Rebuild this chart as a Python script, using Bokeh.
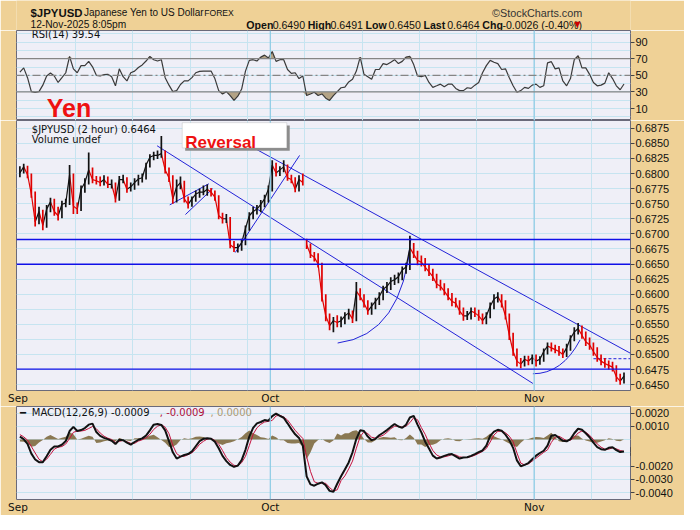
import numpy as np
from bokeh.plotting import figure
from bokeh.layouts import column
from bokeh.models import Range1d, Label, FixedTicker, Span, PrintfTickFormatter, BoxAnnotation
from bokeh.core.properties import value
from bokeh.embed import file_html
from bokeh.resources import INLINE

# ---------------- data (2-hour JPYUSD, sampled every 1/3 trading day) ----------------
closes = [
    0.6801, 0.6811, 0.6798, 0.6766, 0.6720, 0.6737, 0.6714, 0.6741, 0.6753,
    0.6737, 0.6730, 0.6749, 0.6751, 0.6798, 0.6746, 0.6741, 0.6774, 0.6785,
    0.6806, 0.6790, 0.6788, 0.6785, 0.6790, 0.6782, 0.6782, 0.6758, 0.6790,
    0.6790, 0.6774, 0.6778, 0.6785, 0.6791, 0.6793, 0.6814, 0.6827, 0.6830,
    0.6830, 0.6833, 0.6806, 0.6793, 0.6758, 0.6778, 0.6785, 0.6758, 0.6749,
    0.6758, 0.6766, 0.6769, 0.6769, 0.6774, 0.6769, 0.6761, 0.6730, 0.6725,
    0.6725, 0.6682, 0.6677, 0.6677, 0.6685, 0.6709, 0.6730, 0.6737, 0.6741,
    0.6749, 0.6758, 0.6774, 0.6814, 0.6801, 0.6806, 0.6811, 0.6793, 0.6790,
    0.6774, 0.6790, 0.6785, 0.6682, 0.6666, 0.6661, 0.6650, 0.6596, 0.6564,
    0.6548, 0.6556, 0.6553, 0.6556, 0.6564, 0.6569, 0.6559, 0.6605, 0.6596,
    0.6585, 0.6572, 0.6580, 0.6588, 0.6596, 0.6608, 0.6613, 0.6621, 0.6624,
    0.6629, 0.6640, 0.6645, 0.6677, 0.6666, 0.6656, 0.6653, 0.6645, 0.6637,
    0.6629, 0.6617, 0.6613, 0.6605, 0.6596, 0.6588, 0.6585, 0.6572, 0.6564,
    0.6564, 0.6572, 0.6569, 0.6564, 0.6556, 0.6564, 0.6580, 0.6592, 0.6596,
    0.6585, 0.6564, 0.6532, 0.6505, 0.6489, 0.6484, 0.6492, 0.6489, 0.6495,
    0.6489, 0.6492, 0.6505, 0.6514, 0.6511, 0.6508, 0.6505, 0.6500, 0.6511,
    0.6527, 0.6537, 0.6543, 0.6532, 0.6521, 0.6516, 0.6505, 0.6495, 0.6489,
    0.6485, 0.6482, 0.6479, 0.6463, 0.6456, 0.6464,
]
highs = [
    0.6812, 0.6816, 0.6813, 0.6800, 0.6770, 0.6745, 0.6740, 0.6748, 0.6760,
    0.6758, 0.6745, 0.6755, 0.6758, 0.6814, 0.6800, 0.6752, 0.6780, 0.6792,
    0.6835, 0.6810, 0.6796, 0.6795, 0.6797, 0.6795, 0.6790, 0.6785, 0.6796,
    0.6798, 0.6794, 0.6785, 0.6792, 0.6798, 0.6800, 0.6818, 0.6832, 0.6836,
    0.6838, 0.6862, 0.6838, 0.6810, 0.6797, 0.6790, 0.6795, 0.6788, 0.6762,
    0.6762, 0.6772, 0.6775, 0.6780, 0.6782, 0.6776, 0.6772, 0.6764, 0.6735,
    0.6733, 0.6728, 0.6688, 0.6684, 0.6692, 0.6714, 0.6736, 0.6745, 0.6748,
    0.6756, 0.6765, 0.6780, 0.6822, 0.6818, 0.6812, 0.6822, 0.6815, 0.6798,
    0.6794, 0.6797, 0.6800, 0.6692, 0.6684, 0.6670, 0.6668, 0.6652, 0.6600,
    0.6568, 0.6562, 0.6565, 0.6563, 0.6570, 0.6576, 0.6573, 0.6620, 0.6610,
    0.6600, 0.6590, 0.6586, 0.6594, 0.6603, 0.6614, 0.6620, 0.6628, 0.6632,
    0.6636, 0.6646, 0.6652, 0.6697, 0.6685, 0.6672, 0.6664, 0.6660, 0.6650,
    0.6642, 0.6634, 0.6624, 0.6618, 0.6610, 0.6602, 0.6594, 0.6590, 0.6578,
    0.6572, 0.6578, 0.6578, 0.6574, 0.6568, 0.6570, 0.6586, 0.6600, 0.6603,
    0.6600, 0.6590, 0.6568, 0.6536, 0.6510, 0.6494, 0.6498, 0.6498, 0.6500,
    0.6500, 0.6497, 0.6510, 0.6520, 0.6520, 0.6516, 0.6514, 0.6510, 0.6518,
    0.6532, 0.6545, 0.6552, 0.6548, 0.6538, 0.6528, 0.6520, 0.6512, 0.6500,
    0.6494, 0.6490, 0.6488, 0.6482, 0.6468, 0.6470,
]
lows = [
    0.6794, 0.6800, 0.6792, 0.6760, 0.6712, 0.6716, 0.6706, 0.6710, 0.6736,
    0.6730, 0.6722, 0.6726, 0.6744, 0.6748, 0.6733, 0.6733, 0.6738, 0.6768,
    0.6782, 0.6784, 0.6782, 0.6779, 0.6780, 0.6776, 0.6775, 0.6752, 0.6755,
    0.6784, 0.6768, 0.6770, 0.6773, 0.6780, 0.6785, 0.6790, 0.6810, 0.6822,
    0.6824, 0.6826, 0.6800, 0.6786, 0.6750, 0.6752, 0.6774, 0.6752, 0.6742,
    0.6745, 0.6753, 0.6760, 0.6764, 0.6763, 0.6762, 0.6755, 0.6724, 0.6717,
    0.6718, 0.6676, 0.6670, 0.6669, 0.6672, 0.6681, 0.6705, 0.6724, 0.6732,
    0.6736, 0.6744, 0.6752, 0.6770, 0.6795, 0.6796, 0.6802, 0.6788, 0.6784,
    0.6769, 0.6770, 0.6780, 0.6675, 0.6660, 0.6654, 0.6644, 0.6588, 0.6555,
    0.6540, 0.6537, 0.6545, 0.6545, 0.6550, 0.6558, 0.6552, 0.6555, 0.6590,
    0.6578, 0.6566, 0.6566, 0.6575, 0.6582, 0.6590, 0.6602, 0.6607, 0.6615,
    0.6618, 0.6623, 0.6634, 0.6640, 0.6660, 0.6648, 0.6646, 0.6638, 0.6630,
    0.6622, 0.6610, 0.6606, 0.6598, 0.6590, 0.6580, 0.6578, 0.6566, 0.6556,
    0.6557, 0.6558, 0.6562, 0.6556, 0.6550, 0.6550, 0.6560, 0.6575, 0.6586,
    0.6578, 0.6558, 0.6524, 0.6498, 0.6480, 0.6477, 0.6480, 0.6482, 0.6484,
    0.6480, 0.6483, 0.6488, 0.6500, 0.6505, 0.6502, 0.6498, 0.6494, 0.6496,
    0.6506, 0.6522, 0.6533, 0.6526, 0.6514, 0.6508, 0.6498, 0.6488, 0.6482,
    0.6478, 0.6475, 0.6472, 0.6455, 0.6450, 0.6452,
]
rsi = [
    53.9, 59.0, 47.2, 30.4, 29.6, 30.4, 38.2, 49.2, 52.7, 49.2,
    41.4, 47.2, 53.1, 72.7, 57.8, 53.1, 61.7, 61.7, 66.8, 60.2,
    50.0, 49.2, 50.8, 51.2, 48.4, 37.4, 57.8, 48.4, 43.3, 53.1,
    55.1, 59.4, 62.5, 67.2, 72.7, 68.8, 67.2, 68.8, 47.2, 38.2,
    30.4, 31.6, 39.0, 43.3, 43.3, 47.2, 53.1, 54.7, 55.1, 55.1,
    55.1, 46.1, 31.6, 27.6, 30.4, 25.7, 19.8, 24.9, 33.5, 55.1,
    68.0, 68.8, 67.2, 71.9, 74.3, 70.8, 78.6, 66.8, 68.8, 68.8,
    57.0, 52.3, 53.1, 46.1, 49.2, 25.7, 27.6, 29.6, 25.7, 27.6,
    22.5, 19.8, 25.7, 30.4, 35.1, 35.9, 42.1, 45.3, 55.1, 71.9,
    51.2, 48.4, 45.3, 57.0, 57.0, 64.1, 62.9, 65.7, 68.8, 64.1,
    66.8, 71.9, 72.7, 62.9, 49.2, 48.4, 50.0, 41.4, 35.5, 37.4,
    39.4, 36.3, 39.4, 39.4, 34.3, 31.6, 31.6, 35.1, 34.3, 38.2,
    41.4, 53.1, 61.7, 68.0, 65.7, 64.1, 57.0, 57.8, 47.2, 37.4,
    29.6, 31.6, 35.5, 34.3, 38.2, 39.4, 35.5, 37.4, 64.9, 66.4,
    57.8, 59.0, 43.3, 37.4, 46.1, 68.8, 73.5, 59.0, 59.0, 51.2,
    41.4, 37.4, 38.2, 40.6, 53.1, 46.1, 37.4, 32.7, 39.54,
]
macd = [
    0.00023, 0.00004, -0.00033, -0.00106, -0.00150, -0.00170, -0.00170, -0.00126, -0.00077, -0.00052,
    -0.00052, -0.00038, -0.00011, 0.00065, 0.00096, 0.00065, 0.00072, 0.00087, 0.00113, 0.00121,
    0.00057, 0.00028, 0.00013, 0.00004, -0.00009, -0.00033, -0.00001, -0.00004, -0.00023, -0.00038,
    -0.00018, -0.00001, 0.00009, 0.00030, 0.00070, 0.00113, 0.00118, 0.00111, 0.00070, -0.00011,
    -0.00096, -0.00143, -0.00128, -0.00116, -0.00109, -0.00089, -0.00050, -0.00011, 0.00006, 0.00011,
    0.00006, -0.00016, -0.00065, -0.00123, -0.00162, -0.00191, -0.00206, -0.00196, -0.00155, -0.00077,
    0.00023, 0.00089, 0.00123, 0.00133, 0.00148, 0.00143, 0.00177, 0.00196, 0.00179, 0.00165,
    0.00123, 0.00079, 0.00040, 0.00013, -0.00045, -0.00277, -0.00338, -0.00348, -0.00333, -0.00323,
    -0.00345, -0.00387, -0.00394, -0.00333, -0.00277, -0.00226, -0.00172, -0.00096, 0.00006, 0.00070,
    0.00065, 0.00023, -0.00004, 0.00006, 0.00033, 0.00052, 0.00072, 0.00096, 0.00118, 0.00099,
    0.00089, 0.00113, 0.00167, 0.00179, 0.00113, 0.00055, -0.00016, -0.00067, -0.00121, -0.00143,
    -0.00135, -0.00123, -0.00113, -0.00109, -0.00126, -0.00143, -0.00135, -0.00133, -0.00123, -0.00109,
    -0.00094, -0.00082, -0.00045, 0.00028, 0.00060, 0.00074, 0.00067, 0.00038, -0.00004, -0.00062,
    -0.00157, -0.00201, -0.00191, -0.00177, -0.00148, -0.00121, -0.00101, -0.00084, -0.00045, 0.00030,
    0.00035, 0.00013, -0.00009, -0.00013, 0.00004, 0.00048, 0.00082, 0.00074, 0.00048, 0.00018,
    -0.00023, -0.00057, -0.00072, -0.00077, -0.00062, -0.00057, -0.00079, -0.00094, -0.00089,
]
signal = [
    0.00038, 0.00021, -0.00004, -0.00052, -0.00101, -0.00148, -0.00167, -0.00148, -0.00111, -0.00072,
    -0.00057, -0.00052, -0.00033, 0.00009, 0.00055, 0.00065, 0.00065, 0.00070, 0.00084, 0.00099,
    0.00082, 0.00050, 0.00026, 0.00011, 0.00001, -0.00021, -0.00013, -0.00006, -0.00016, -0.00028,
    -0.00028, -0.00011, -0.00001, 0.00013, 0.00040, 0.00077, 0.00101, 0.00113, 0.00094, 0.00045,
    -0.00043, -0.00106, -0.00126, -0.00126, -0.00113, -0.00099, -0.00072, -0.00035, -0.00013, 0.00004,
    0.00009, -0.00006, -0.00035, -0.00082, -0.00135, -0.00170, -0.00194, -0.00199, -0.00174, -0.00126,
    -0.00045, 0.00040, 0.00089, 0.00116, 0.00133, 0.00138, 0.00145, 0.00179, 0.00184, 0.00170,
    0.00148, 0.00109, 0.00070, 0.00038, 0.00009, -0.00130, -0.00240, -0.00318, -0.00330, -0.00328,
    -0.00330, -0.00362, -0.00387, -0.00379, -0.00309, -0.00274, -0.00221, -0.00162, -0.00065, 0.00023,
    0.00060, 0.00045, 0.00018, 0.00011, 0.00021, 0.00033, 0.00055, 0.00082, 0.00101, 0.00101,
    0.00094, 0.00101, 0.00128, 0.00165, 0.00150, 0.00091, 0.00040, -0.00026, -0.00082, -0.00116,
    -0.00130, -0.00130, -0.00123, -0.00113, -0.00116, -0.00130, -0.00135, -0.00135, -0.00128, -0.00118,
    -0.00104, -0.00089, -0.00067, -0.00018, 0.00035, 0.00062, 0.00065, 0.00052, 0.00026, -0.00016,
    -0.00101, -0.00177, -0.00191, -0.00182, -0.00162, -0.00140, -0.00118, -0.00096, -0.00077, -0.00021,
    0.00018, 0.00026, 0.00009, -0.00009, -0.00004, 0.00018, 0.00050, 0.00065, 0.00055, 0.00033,
    0.00001, -0.00033, -0.00057, -0.00072, -0.00072, -0.00062, -0.00070, -0.00082, -0.00089,
]
gap_index = 75                      # first bar after the Oct 4-5 weekend gap

month_days = [0, 22, 45]            # trading-day index of Sep 1, Oct 1, Nov 3
month_labels = ["Sep", "Oct", "Nov"]
week_days = [5, 10, 15, 20, 25, 30, 35, 40, 45, 50]
price_ticks = [0.6450, 0.6475, 0.6500, 0.6525, 0.6550, 0.6575, 0.6600, 0.6625, 0.6650,
               0.6675, 0.6700, 0.6725, 0.6750, 0.6775, 0.6800, 0.6825, 0.6850, 0.6875]
rsi_ticks = [10, 30, 50, 70, 90]
rsi_grid = [0, 10, 20, 30, 40, 50, 60, 70, 80, 90, 100]
macd_ticks = [-0.004, -0.003, -0.002, 0.001, 0.002]
macd_grid = [-0.004, -0.003, -0.002, -0.001, 0.0, 0.001, 0.002]
h_levels = [0.66907, 0.66496, 0.64757]
trend_x0 = [20.21, 12.13, 13.23, 14.60, 18.94]
trend_y0 = [0.6846, 0.6846, 0.6748, 0.6732, 0.6669]
trend_x1 = [53.40, 44.89, 16.64, 16.98, 24.55]
trend_y1 = [0.6502, 0.6452, 0.6783, 0.6775, 0.6830]
arc_x0 = [27.87, 44.89]; arc_y0 = [0.6519, 0.6468]
arc_cx = [33.57, 47.45]; arc_cy = [0.6532, 0.6468]
arc_x1 = [34.26, 49.00]; arc_y1 = [0.6693, 0.6524]
dash_x0 = [50.17]; dash_x1 = [53.40]; dash_y = [0.6493]
yen_note = {"x": [2.51], "y": [10.5], "text": ["Yen"]}   # chart annotation anchored in the RSI pane

# ---------------- layout constants ----------------
SX, SY = 684 / 700, 514 / 530
LEFT, FW, RIGHT = 16, 614, 54
TAN = "#EFD196"
PANEL = "#EFEFF7"
GRID = "#C6E4F0"
MONTH = "#8CCBE4"
FRAME = "#6A6A7A"
BLUE = "#2323D8"
RED = "#E00000"
FONT = "DejaVu Sans"
AFONT = "Liberation Sans"

xs = (np.arange(len(closes)) + 0.5) / 3.0
xr = Range1d(-0.128, 53.40)


def make(fh, yr, bottom, xaxis):
    p = figure(frame_width=FW, frame_height=fh, x_range=xr, y_range=yr,
               x_axis_location="below" if xaxis else None, y_axis_location="right",
               output_backend="svg", toolbar_location=None,
               min_border_left=LEFT, min_border_right=RIGHT, min_border_top=0,
               min_border_bottom=bottom)
    p.background_fill_color = PANEL
    p.border_fill_color = TAN
    p.outline_line_color = FRAME
    p.xgrid.ticker = FixedTicker(ticks=week_days)
    p.xgrid.grid_line_color = GRID
    p.ygrid.grid_line_color = GRID
    for d in month_days[1:]:
        p.add_layout(Span(location=d, dimension="height", line_color=MONTH, line_width=1.2))
    ya = p.yaxis[0]
    ya.major_tick_in = 0
    ya.major_tick_out = 4
    ya.minor_tick_in = 0
    ya.minor_tick_out = 0
    ya.axis_line_color = None
    ya.major_tick_line_color = "#444444"
    ya.major_label_text_font = AFONT
    ya.major_label_text_font_size = "11px"
    ya.major_label_text_color = "#111111"
    ya.major_label_standoff = 1
    if xaxis:
        xa = p.xaxis[0]
        xa.ticker = FixedTicker(ticks=month_days)
        xa.major_label_overrides = {d: l for d, l in zip(month_days, month_labels)}
        xa.major_tick_in = 0
        xa.major_tick_out = 0
        xa.minor_tick_in = 0
        xa.minor_tick_out = 0
        xa.axis_line_color = None
        xa.major_label_text_font = FONT
        xa.major_label_text_font_size = "10.5px"
        xa.major_label_text_color = "#111111"
        xa.major_label_standoff = 1
    return p


def slabel(p, fb, X, Y, text, **kw):
    p.add_layout(Label(x=X * SX - LEFT, y=fb - Y * SY, x_units="screen", y_units="screen",
                       text=text, **kw))


# ---------------- header ----------------
HH = 30
ph = figure(width=684, height=HH, x_range=Range1d(0, 700), y_range=Range1d(HH / SY, 0),
            x_axis_location=None, y_axis_location=None, output_backend="svg",
            toolbar_location=None, min_border=0)
ph.grid.visible = False
ph.outline_line_color = None
ph.background_fill_color = TAN
ph.border_fill_color = TAN


def hl(X, Y, text, size, bold=False, color="#111111", align="left", font=AFONT):
    ph.add_layout(Label(x=X, y=Y, text=text, text_font=font, text_font_size=size,
                        text_font_style="bold" if bold else "normal", text_color=color,
                        text_align=align, text_baseline="alphabetic"))


hl(16, 12.8, "$JPYUSD", "11.4px", bold=True)
hl(77, 12.8, "Japanese Yen to US Dollar", "10px")
hl(214, 12.8, "FOREX", "8.6px")
hl(645, 12.5, "\u00a9StockCharts.com", "10.8px", color="#333333", align="right")
hl(16, 25, "12-Nov-2025 8:05pm", "10.2px")
hdr = [(262, "Open", True), (292, "0.6490", False), (332, "High", True), (358, "0.6491", False),
       (398, "Low", True), (424, "0.6450", False), (464, "Last", True), (491, "0.6464", False),
       (531, "Chg", True), (554, "-0.0026 (-0.40%)", False)]
for X, t, b in hdr:
    hl(X, 25, t, "10.6px", bold=b)
hl(636, 24.5, "\u25bc", "8px", color="#CC0000", font=FONT)

# ---------------- RSI panel ----------------
pr = make(90, Range1d(-4.3, 103.9), 0, False)
pr.ygrid.ticker = FixedTicker(ticks=rsi_grid)
pr.yaxis[0].ticker = FixedTicker(ticks=rsi_ticks)
pr.add_layout(Span(location=70, dimension="width", line_color="#858585", line_width=1.3))
pr.add_layout(Span(location=30, dimension="width", line_color="#858585", line_width=1.3))
pr.add_layout(Span(location=50, dimension="width", line_color="#858585", line_width=1.2,
                   line_dash="8 3 2 3"))
rs = np.array(rsi)
pr.varea(x=xs, y1=70, y2=np.maximum(rs, 70), fill_color="#B4A386")
pr.varea(x=xs, y1=30, y2=np.minimum(rs, 30), fill_color="#B4A386")
pr.line(xs, rsi, line_color="#3A3A3A", line_width=1.2)
pr.text(x="x", y="y", text="text", source=yen_note, text_font=value(AFONT),
        text_font_size=value("25px"), text_font_style="bold", text_color="#EE1111",
        text_baseline="alphabetic", text_align="left")
slabel(pr, 120, 32, 35, "RSI(14) 39.54", text_font=FONT, text_font_size="10px",
       text_baseline="middle", text_color="#111111")
slabel(pr, 120, 647, 87.5, "39.54", text_font=FONT, text_font_size="10.5px",
       text_baseline="middle", background_fill_color="white", border_line_color="black",
       text_color="#111111")

# ---------------- price panel ----------------
pm = make(270, Range1d(0.64403, 0.68879), 15, True)
pm.ygrid.ticker = FixedTicker(ticks=price_ticks)
pm.yaxis[0].ticker = FixedTicker(ticks=price_ticks)
pm.yaxis[0].formatter = PrintfTickFormatter(format="%.4f")
for lv in h_levels:
    pm.add_layout(Span(location=lv, dimension="width", line_color="#1010E8", line_width=1.4))
pm.segment(x0=trend_x0, y0=trend_y0, x1=trend_x1, y1=trend_y1, line_color=BLUE, line_width=1)
pm.quadratic(x0=arc_x0, y0=arc_y0, x1=arc_x1, y1=arc_y1, cx=arc_cx, cy=arc_cy,
             line_color=BLUE, line_width=1)
pm.segment(x0=dash_x0, y0=dash_y, x1=dash_x1, y1=dash_y, line_color=BLUE, line_width=1,
           line_dash="3 2")
opens = [closes[0]] + closes[:-1]
cols = ["#111111" if c >= o else RED for o, c in zip(opens, closes)]
# connect consecutive closes (except across the weekend gap) so the bars read as a dense series
link = [i for i in range(1, len(closes)) if i != gap_index]
pm.segment(x0=[xs[i - 1] for i in link], y0=[closes[i - 1] for i in link],
           x1=[xs[i] for i in link], y1=[closes[i] for i in link],
           line_color=[cols[i] for i in link], line_width=1.2)
pm.segment(x0=xs, y0=lows, x1=xs, y1=highs, line_color=cols, line_width=1.7)
slabel(pm, 390, 32, 133, "$JPYUSD (2 hour) 0.6464", text_font=FONT, text_font_size="10px",
       text_baseline="middle", text_color="#111111")
slabel(pm, 390, 32, 143, "Volume undef", text_font=FONT, text_font_size="10px",
       text_baseline="middle", text_color="#111111")
# Reversal call-out box
pm.add_layout(BoxAnnotation(left=189 * SX - LEFT, right=296 * SX - LEFT,
                            top=390 - 129 * SY, bottom=390 - 155 * SY,
                            left_units="screen", right_units="screen",
                            top_units="screen", bottom_units="screen",
                            fill_color="#8C8C8C", fill_alpha=1, line_color=None))
pm.add_layout(BoxAnnotation(left=186 * SX - LEFT, right=293 * SX - LEFT,
                            top=390 - 126 * SY, bottom=390 - 152 * SY,
                            left_units="screen", right_units="screen",
                            top_units="screen", bottom_units="screen",
                            fill_color="white", fill_alpha=1, line_color="#A0A0A0"))
slabel(pm, 390, 189, 146, "Reversal", text_font=AFONT, text_font_size="17px",
       text_font_style="bold", text_color="#EE1111", text_baseline="alphabetic")
slabel(pm, 390, 646, 387, "0.6464", text_font=AFONT, text_font_size="11px",
       text_font_style="bold", text_baseline="middle", background_fill_color="white",
       border_line_color="black", text_color="#111111")

# ---------------- MACD panel ----------------
pc = make(93, Range1d(-0.00452, 0.00250), 16, True)
pc.ygrid.ticker = FixedTicker(ticks=macd_grid)
pc.yaxis[0].ticker = FixedTicker(ticks=macd_ticks)
pc.yaxis[0].formatter = PrintfTickFormatter(format="%.4f")
hist = np.array(macd) - np.array(signal)
pc.varea(x=xs, y1=0, y2=hist, fill_color="#8A7852")
pc.line(xs, signal, line_color="#C4123E", line_width=1)
pc.line(xs, macd, line_color="#111111", line_width=2)
slabel(pc, 498, 20, 424, "\u2501", text_font=FONT, text_font_size="10px",
       text_baseline="middle", text_color="#111111")
slabel(pc, 498, 32, 424, "MACD(12,26,9) -0.0009", text_font=FONT, text_font_size="10px",
       text_baseline="middle", text_color="#111111")
slabel(pc, 498, 163, 424, ", -0.0009", text_font=FONT, text_font_size="10px",
       text_baseline="middle", text_color="#B0103A")
slabel(pc, 498, 215, 424, ", 0.0000", text_font=FONT, text_font_size="10px",
       text_baseline="middle", text_color="#AE9A74")
slabel(pc, 498, 646, 452.5, "0.0000", text_font=FONT, text_font_size="10.5px",
       text_baseline="middle", background_fill_color="white", border_line_color="black",
       text_color="#111111")
slabel(pc, 498, 645, 464, "-0.0009", text_font=FONT, text_font_size="10.5px",
       text_baseline="middle", background_fill_color="white", border_line_color="black",
       text_color="#111111")

layout = column(ph, pr, pm, pc, spacing=0)
open("out.html", "w").write(file_html(layout, INLINE))
